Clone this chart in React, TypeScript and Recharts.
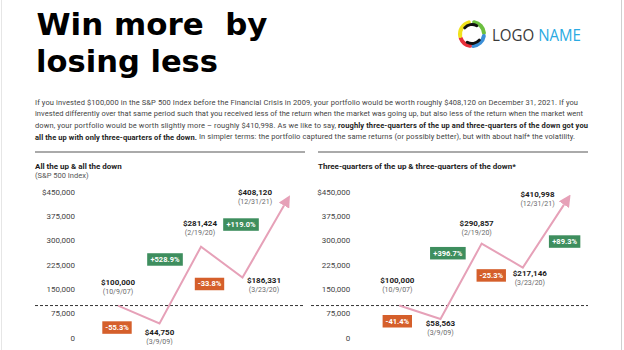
import React from 'react';
import { LineChart, Line, XAxis, YAxis, ReferenceLine, LabelList } from 'recharts';

// ---------- data ----------
const dates = ['10/9/07', '3/9/09', '2/19/20', '3/23/20', '12/31/21'];
const sp500Values = [100000, 44750, 281424, 186331, 408120];
const threeQuarterValues = [100000, 58563, 290857, 217146, 410998];
const sp500Changes = ['-55.3%', '+528.9%', '-33.8%', '+119.0%'];
const threeQuarterChanges = ['-41.4%', '+396.7%', '-25.3%', '+89.3%'];
const yTicks = [0, 75000, 150000, 225000, 300000, 375000, 450000];
const baselineValue = 100000;

// ---------- layout / style (not data) ----------
const FONT = 'Roboto, "Liberation Sans", Arial, sans-serif';
const PINK = '#e6a1b8';
const GREEN = '#3e8e5e';
const ORANGE = '#d55f2b';

type Off = [number, number];
const leftValueOffsets: Off[] = [[0, -23], [0, 9], [-1, -23.5], [21.5, 3], [-29, -13.5]];
const leftBoxOffsets: Off[] = [[-1, 22], [5.5, -64], [8.5, 37.3], [-1.5, -53]];
const rightValueOffsets: Off[] = [[-2, -25], [0, 5], [-5, -20], [7, 6], [-26.5, -10]];
const rightBoxOffsets: Off[] = [[-2, 15.7], [7.4, -65.8], [9.6, 31.8], [41.8, -26]];

const charW: Record<string, number> = { '+': 0.57, '-': 0.3, '.': 0.27, '%': 0.73 };
const textW = (s: string, fs: number) =>
  s.split('').reduce((a, c) => a + (charW[c] ?? 0.562), 0) * fs;

const fmtTick = (v: number) => (v === 450000 ? '$450,000' : v.toLocaleString('en-US'));

function makeLabel(values: number[], changes: string[], valueOffsets: Off[], boxOffsets: Off[]) {
  return (props: any) => {
    const { x, y } = props;
    const i: number = props.index ?? values.indexOf(props.value);
    if (i < 0 || x == null || y == null) return null;
    const [vx, vy] = valueOffsets[i];
    const change = changes[i];
    let box = null;
    if (change) {
      const [bx, by] = boxOffsets[i];
      const w = textW(change, 7.5) + 7;
      const h = 12.5;
      const cx = x + bx;
      const cy = y + by;
      box = (
        <g>
          <rect x={cx - w / 2} y={cy - h / 2} width={w} height={h} fill={change.startsWith('+') ? GREEN : ORANGE} />
          <text x={cx} y={cy} textAnchor="middle" dominantBaseline="central" fontFamily={FONT} fontSize={7.5} fontWeight={700} fill="#fff">
            {change}
          </text>
        </g>
      );
    }
    return (
      <g>
        <text x={x + vx} y={y + vy} textAnchor="middle" dominantBaseline="central" fontFamily={FONT} fontSize={8} fontWeight={700} fill="#1c1c1c">
          {'$' + values[i].toLocaleString('en-US')}
        </text>
        <text x={x + vx} y={y + vy + 9.5} textAnchor="middle" dominantBaseline="central" fontFamily={FONT} fontSize={7} fill="#6a6a6a">
          {'(' + dates[i] + ')'}
        </text>
        {box}
      </g>
    );
  };
}

function makeTick(shift: number) {
  return (props: any) => {
    const { x, y, payload } = props;
    return (
      <text x={x + shift} y={y} textAnchor="end" dominantBaseline="central" fontFamily={FONT} fontSize={8} fill="#444">
        {fmtTick(payload.value)}
      </text>
    );
  };
}

function Panel(p: {
  left: number; values: number[]; changes: string[]; valueOffsets: Off[]; boxOffsets: Off[];
  marginL: number; marginR: number; padL: number; padR: number; tickShift: number; markerId: string;
}) {
  const data = dates.map((d, i) => ({ date: d, value: p.values[i] }));
  return (
    <div style={{ position: 'absolute', left: p.left, top: 180 }}>
      <LineChart width={312} height={165} data={data} margin={{ top: 12, right: p.marginR, bottom: 7, left: p.marginL - 2 }}>
        <XAxis dataKey="date" hide padding={{ left: p.padL, right: p.padR }} />
        <YAxis
          domain={[0, 450000]}
          ticks={yTicks}
          interval={0}
          width={2}
          tickSize={0}
          tickMargin={0}
          axisLine={false}
          tickLine={false}
          tick={makeTick(p.tickShift)}
        />
        <ReferenceLine y={baselineValue} stroke="#333" strokeDasharray="3 2" strokeWidth={1} />
        <Line
          dataKey="value"
          type="linear"
          stroke={PINK}
          strokeWidth={2}
          dot={false}
          isAnimationActive={false}
          markerEnd={`url(#${p.markerId})`}
        >
          <LabelList dataKey="value" content={makeLabel(p.values, p.changes, p.valueOffsets, p.boxOffsets)} />
        </Line>
      </LineChart>
    </div>
  );
}

function arc(cx: number, cy: number, r: number, a0: number, a1: number) {
  const rad = (a: number) => (a * Math.PI) / 180;
  const x0 = cx + r * Math.cos(rad(a0));
  const y0 = cy + r * Math.sin(rad(a0));
  const x1 = cx + r * Math.cos(rad(a1));
  const y1 = cy + r * Math.sin(rad(a1));
  return `M${x0},${y0} A${r},${r} 0 0 1 ${x1},${y1}`;
}

export default function App() {
  const pFont = FONT;
  return (
    <div style={{ position: 'absolute', left: 0, top: 0, width: 624, height: 350, background: '#fff', overflow: 'hidden' }}>
      <svg width={0} height={0} style={{ position: 'absolute' }}>
        <defs>
          <marker id="arrowL" viewBox="0 0 12 12" markerWidth={12} markerHeight={12} refX={0} refY={6} orient="auto" markerUnits="userSpaceOnUse">
            <path d="M0,0 L12,6 L0,12 Z" fill={PINK} />
          </marker>
          <marker id="arrowR" viewBox="0 0 12 12" markerWidth={12} markerHeight={12} refX={0} refY={6} orient="auto" markerUnits="userSpaceOnUse">
            <path d="M0,0 L12,6 L0,12 Z" fill={PINK} />
          </marker>
        </defs>
      </svg>
      <svg width={624} height={350} style={{ position: 'absolute', left: 0, top: 0 }}>
        <line x1={1.5} y1={0} x2={1.5} y2={350} stroke="#e6e6e6" />
        <line x1={621.5} y1={0} x2={621.5} y2={350} stroke="#cfcfcf" />
        <text x={36.5} y={35} fontFamily='"DejaVu Sans", sans-serif' fontWeight={700} fontSize={30} fill="#000" textLength={231} lengthAdjust="spacingAndGlyphs" style={{ whiteSpace: 'pre' }}>
          {'Win more  by'}
        </text>
        <text x={36} y={72} fontFamily='"DejaVu Sans", sans-serif' fontWeight={700} fontSize={30} fill="#000" textLength={182} lengthAdjust="spacingAndGlyphs">
          losing less
        </text>
        {/* logo */}
        <g fill="none" strokeWidth={4} strokeLinecap="round">
          <path d={arc(472, 34, 12, -80, -5)} stroke="#6cbf3f" />
          <path d={arc(472, 34, 12, 10, 85)} stroke="#3b8fd8" />
          <path d={arc(472, 34, 12, 100, 160)} stroke="#e8303a" />
          <path d={arc(472, 34, 12, 170, 255)} stroke="#f0e21c" />
          <path d={arc(472, 34, 9.5, -140, -60)} stroke="#111" strokeWidth={3} />
          <path d={arc(472, 34, 9.5, 40, 120)} stroke="#111" strokeWidth={3} />
        </g>
        <text x={492} y={35} dominantBaseline="central" fontFamily='"Open Sans", sans-serif' fontSize={16} textLength={89} lengthAdjust="spacingAndGlyphs">
          <tspan fill="#3a3a3a">LOGO </tspan>
          <tspan fill="#2aaae2">NAME</tspan>
        </text>
        {/* paragraph */}
        <g fontFamily={pFont} fontSize={7.5} fill="#444">
          <text x={35} y={102} dominantBaseline="central" textLength={543} lengthAdjust="spacing">
            If you invested $100,000 in the S&amp;P 500 Index before the Financial Crisis in 2009, your portfolio would be worth roughly $408,120 on December 31, 2021. If you
          </text>
          <text x={35} y={113.5} dominantBaseline="central" textLength={548} lengthAdjust="spacing">
            invested differently over that same period such that you received less of the return when the market was going up, but also less of the return when the market went
          </text>
          <text x={35} y={125} dominantBaseline="central" textLength={553} lengthAdjust="spacing">
            down, your portfolio would be worth slightly more – roughly $410,998. As we like to say, <tspan fontWeight={700} fill="#222">roughly three-quarters of the up and three-quarters of the down got you</tspan>
          </text>
          <text x={35} y={136.5} dominantBaseline="central" textLength={540} lengthAdjust="spacing">
            <tspan fontWeight={700} fill="#222">all the up with only three-quarters of the down.</tspan> In simpler terms: the portfolio captured the same returns (or possibly better), but with about half* the volatility.
          </text>
        </g>
        <rect x={35} y={151} width={270} height={2} fill="#aaa" />
        <rect x={318} y={151} width={270} height={2} fill="#aaa" />
        <text x={35} y={166} dominantBaseline="central" fontFamily={FONT} fontSize={8} fontWeight={700} fill="#1c1c1c">
          {'All the up & all the down'}
        </text>
        <text x={35} y={175} dominantBaseline="central" fontFamily={FONT} fontSize={7.5} fill="#555">
          {'(S&P 500 Index)'}
        </text>
        <text x={318} y={166} dominantBaseline="central" fontFamily={FONT} fontSize={8} fontWeight={700} fill="#1c1c1c">
          {'Three-quarters of the up & three-quarters of the down*'}
        </text>
      </svg>
      <Panel left={0} values={sp500Values} changes={sp500Changes} valueOffsets={leftValueOffsets} boxOffsets={leftBoxOffsets}
        marginL={35} marginR={7} padL={83} padR={21} tickShift={40} markerId="arrowL" />
      <Panel left={300} values={threeQuarterValues} changes={threeQuarterChanges} valueOffsets={rightValueOffsets} boxOffsets={rightBoxOffsets}
        marginL={11} marginR={24} padL={88.3} padR={24} tickShift={39.3} markerId="arrowR" />
    </div>
  );
}
